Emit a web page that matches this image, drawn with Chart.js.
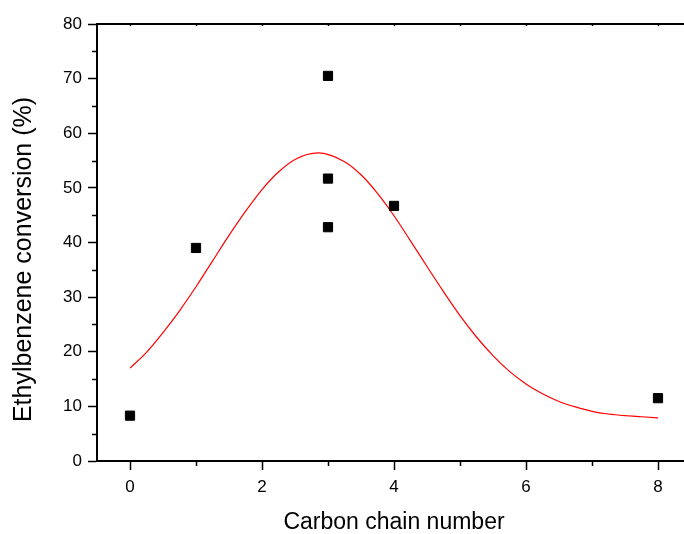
<!DOCTYPE html>
<html>
<head>
<meta charset="utf-8">
<script src="https://cdn.jsdelivr.net/npm/chart.js@4.4.1/dist/chart.umd.min.js"></script>
<style>
  html, body { margin: 0; padding: 0; overflow: hidden; background: #fff; }
  canvas { display: block; }
</style>
</head>
<body>
<canvas id="mainChart" width="700" height="534"></canvas>
<script>
// measured points (carbon chain number, conversion %)
const pointX = [0, 1, 3, 3, 3, 4, 8]
const pointY = [8.3, 39.0, 70.5, 51.7, 42.8, 46.7, 11.5]

// red fit curve
const curveX = [0, 0.25, 0.5, 0.75, 1, 1.25, 1.5, 1.75, 2, 2.25, 2.5, 2.85, 3.25, 3.5, 3.75, 4,
                4.25, 4.5, 4.75, 5, 5.25, 5.5, 5.75, 6, 6.25, 6.5, 6.75, 7, 7.25, 7.5, 7.75, 8]
const curveY = [17.0, 19.9, 23.5, 27.5, 31.9, 36.6, 41.3, 45.7, 49.7, 52.9, 55.2, 56.4, 54.8, 52.4, 49.0, 44.9,
                40.3, 35.6, 31.0, 26.6, 22.7, 19.3, 16.4, 14.1, 12.3, 10.9, 9.9, 9.1, 8.6, 8.3, 8.1, 7.9]

const xMajorTicks = [0, 2, 4, 6, 8]
const xMinorTicks = [1, 3, 5, 7]
const yMajorTicks = [0, 10, 20, 30, 40, 50, 60, 70, 80]
const yMinorTicks = [5, 15, 25, 35, 45, 55, 65, 75]

const xTitle = "Carbon chain number"
const yTitle = "Ethylbenzene conversion (%)"

const fontFamily = "'Liberation Sans', Arial, sans-serif"

function toPoints(xs, ys) {
    return xs.map((x, i) => ({ x: x, y: ys[i] }))
}

// minor ticks, top frame line, top ticks and the y title
const framePlugin = {
    id: 'frame',
    afterDraw(chart) {
        const ctx = chart.ctx
        const area = chart.chartArea
        const xs = chart.scales.x
        const ys = chart.scales.y
        ctx.save()
        ctx.strokeStyle = '#000'
        ctx.lineWidth = 2
        ctx.beginPath()
        ctx.moveTo(area.left - 1, area.top)
        ctx.lineTo(area.right, area.top)
        ctx.stroke()
        ctx.lineWidth = 1.5
        xMinorTicks.forEach(v => {
            const px = Math.round(xs.getPixelForValue(v)) + 0.5
            ctx.beginPath()
            ctx.moveTo(px, area.bottom)
            ctx.lineTo(px, area.bottom + 5)
            ctx.stroke()
        })
        xMajorTicks.concat(xMinorTicks).forEach(v => {
            const px = Math.round(xs.getPixelForValue(v)) + 0.5
            ctx.beginPath()
            ctx.moveTo(px, area.top)
            ctx.lineTo(px, area.top + 2)
            ctx.stroke()
        })
        yMinorTicks.forEach(v => {
            const py = Math.round(ys.getPixelForValue(v)) + 0.5
            ctx.beginPath()
            ctx.moveTo(area.left, py)
            ctx.lineTo(area.left - 5, py)
            ctx.stroke()
        })
        // y axis title, sits a bit below the middle of the axis like the original
        ctx.translate(24, (area.top + area.bottom) / 2 + 17)
        ctx.rotate(-Math.PI / 2)
        ctx.fillStyle = '#000'
        ctx.font = "25px " + fontFamily
        ctx.textAlign = 'center'
        ctx.textBaseline = 'middle'
        ctx.fillText(yTitle, 0, 0)
        ctx.restore()
    }
}

const ctx = document.getElementById('mainChart').getContext('2d')
window.myChart = new Chart(ctx, {
    type: 'scatter',
    data: {
        datasets: [
            {
                label: 'data',
                data: toPoints(pointX, pointY),
                pointStyle: 'rect',
                pointRadius: 6.5,
                backgroundColor: '#000',
                borderColor: '#000',
                borderWidth: 1,
                showLine: false
            },
            {
                label: 'fit',
                data: toPoints(curveX, curveY),
                showLine: true,
                pointRadius: 0,
                borderColor: '#ff0000',
                borderWidth: 1.2,
                cubicInterpolationMode: 'monotone',
                fill: false
            }
        ]
    },
    options: {
        responsive: false,
        animation: false,
        layout: { padding: { left: 0, top: 24, right: 9, bottom: 0 } },
        plugins: {
            legend: { display: false },
            tooltip: { enabled: false }
        },
        scales: {
            x: {
                type: 'linear',
                min: -0.5,
                max: 8.5,
                afterBuildTicks: s => { s.ticks = xMajorTicks.map(v => ({ value: v })) },
                afterFit: s => { s.height = 73 },
                border: { display: true, color: '#000', width: 2 },
                grid: { drawOnChartArea: false, drawTicks: true, tickLength: 9, tickWidth: 1.5, tickColor: '#000' },
                ticks: { color: '#000', padding: 7, font: { family: fontFamily, size: 17 }, maxRotation: 0 },
                title: { display: true, text: xTitle, color: '#000', padding: { top: 0, bottom: -2 }, font: { family: fontFamily, size: 23 } }
            },
            y: {
                min: 0,
                max: 80,
                afterBuildTicks: s => { s.ticks = yMajorTicks.map(v => ({ value: v })) },
                afterFit: s => { s.width = 97 },
                border: { display: true, color: '#000', width: 2 },
                grid: { drawOnChartArea: false, drawTicks: true, tickLength: 9, tickWidth: 1.5, tickColor: '#000' },
                ticks: { color: '#000', padding: 6, font: { family: fontFamily, size: 17 } },
                title: { display: false }
            }
        }
    },
    plugins: [framePlugin]
})
</script>
</body>
</html>
